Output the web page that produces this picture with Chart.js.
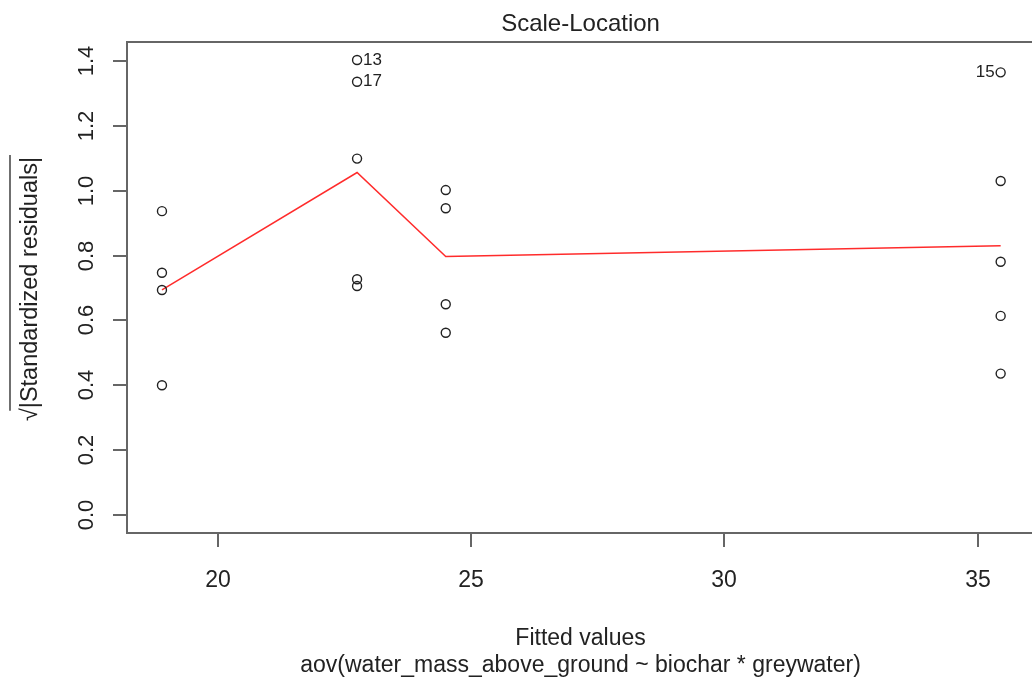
<!DOCTYPE html>
<html>
<head>
<meta charset="utf-8">
<title>Scale-Location</title>
<script src="https://cdn.jsdelivr.net/npm/chart.js@4"></script>
<style>
  html, body { margin: 0; padding: 0; background: #fff; overflow: hidden; }
  #wrap { position: relative; width: 1040px; height: 687px; }
</style>
</head>
<body>
<div id="wrap"><canvas id="chart"></canvas></div>
<script>
// fitted values and sqrt(|standardized residuals|), one entry per observation
var fitted = [18.9, 18.9, 18.9, 18.9,
              22.75, 22.75, 22.75, 22.75, 22.75,
              24.5, 24.5, 24.5, 24.5,
              35.45, 35.45, 35.45, 35.45, 35.45];
var sqrtStdResid = [0.937, 0.747, 0.694, 0.400,
                    1.403, 1.336, 1.099, 0.727, 0.706,
                    1.002, 0.946, 0.650, 0.562,
                    1.365, 1.030, 0.781, 0.614, 0.436];
var pointIds = ['', '', '', '',
                '13', '17', '', '', '',
                '', '', '', '',
                '15', '', '', '', ''];

// smoother (red line)
var smoothX = [18.9, 22.75, 24.5, 35.45];
var smoothY = [0.694, 1.056, 0.797, 0.830];

// axes
var xRange = [18.21, 36.11];
var yRange = [-0.0555, 1.4586];
var xTickValues = [20, 25, 30, 35];
var yTickValues = [0.0, 0.2, 0.4, 0.6, 0.8, 1.0, 1.2, 1.4];

var chartTitle = 'Scale-Location';
var xTitle = 'Fitted values';
var subTitle = 'aov(water_mass_above_ground ~ biochar * greywater)';
var yTitle = '\u221A|Standardized residuals|';

var FONT = '"Liberation Sans", Arial, sans-serif';
var INK = '#222';
var AXIS = '#666';

// R style box, ticks and labels drawn over the library's scales
var rDecor = {
    id: 'rDecor',
    afterDraw: function (chart) {
        var ctx = chart.ctx;
        var a = chart.chartArea;
        var xs = chart.scales.x, ys = chart.scales.y;
        ctx.save();

        // box
        ctx.strokeStyle = AXIS;
        ctx.lineWidth = 2;
        ctx.strokeRect(a.left, a.top, a.right - a.left, a.bottom - a.top);

        // x ticks
        ctx.fillStyle = INK;
        ctx.font = '23px ' + FONT;
        ctx.textAlign = 'center';
        ctx.textBaseline = 'alphabetic';
        xs.ticks.forEach(function (t) {
            var px = Math.round(xs.getPixelForValue(t.value));
            ctx.beginPath();
            ctx.moveTo(px, a.bottom);
            ctx.lineTo(px, a.bottom + 14);
            ctx.stroke();
            ctx.fillText(String(t.value), px, 587);
        });

        // y ticks (rotated labels)
        ctx.font = '22px ' + FONT;
        ys.ticks.forEach(function (t) {
            var py = Math.round(ys.getPixelForValue(t.value));
            ctx.beginPath();
            ctx.moveTo(a.left, py);
            ctx.lineTo(a.left - 14, py);
            ctx.stroke();
            ctx.save();
            ctx.translate(93, py);
            ctx.rotate(-Math.PI / 2);
            ctx.fillText(t.value.toFixed(1), 0, 0);
            ctx.restore();
        });

        // titles
        var cx = (a.left + a.right) / 2;
        ctx.font = '24px ' + FONT;
        ctx.fillText(chartTitle, cx, 31);
        ctx.font = '23px ' + FONT;
        ctx.fillText(xTitle, cx, 645);
        ctx.fillText(subTitle, cx, 672);

        // y title with radical overline
        ctx.font = '23.5px ' + FONT;
        var cy = 289;
        var wAll = ctx.measureText(yTitle).width;
        var wRoot = ctx.measureText('\u221A').width;
        ctx.save();
        ctx.translate(37, cy);
        ctx.rotate(-Math.PI / 2);
        ctx.fillText(yTitle, 0, 0);
        ctx.restore();
        var yStart = cy + wAll / 2 - wRoot * 0.8;
        var yEnd = cy - wAll / 2 - 2;
        ctx.strokeStyle = INK;
        ctx.lineWidth = 1.3;
        ctx.beginPath();
        ctx.moveTo(10, yStart);
        ctx.lineTo(10, yEnd);
        ctx.stroke();

        // point ids: right of the point in the left half, left of it otherwise
        ctx.font = '17px ' + FONT;
        ctx.textBaseline = 'middle';
        var meta = chart.getDatasetMeta(0);
        meta.data.forEach(function (el, i) {
            if (!pointIds[i]) return;
            var onRight = fitted[i] > (xRange[0] + xRange[1]) / 2;
            ctx.textAlign = onRight ? 'right' : 'left';
            ctx.fillText(pointIds[i], el.x + (onRight ? -6 : 6), el.y);
        });
        ctx.restore();
    }
};

var ctx = document.getElementById('chart').getContext('2d');
new Chart(ctx, {
    type: 'scatter',
    data: {
        datasets: [
            {
                label: 'residuals',
                data: fitted.map(function (x, i) { return { x: x, y: sqrtStdResid[i] }; }),
                pointStyle: 'circle',
                pointRadius: 4.5,
                pointBorderWidth: 1.4,
                borderColor: '#222',
                backgroundColor: 'rgba(0,0,0,0)',
                order: 1
            },
            {
                label: 'smoother',
                data: smoothX.map(function (x, i) { return { x: x, y: smoothY[i] }; }),
                showLine: true,
                borderColor: 'rgba(255,20,20,0.9)',
                borderWidth: 1.5,
                pointRadius: 0,
                tension: 0,
                order: 2
            }
        ]
    },
    options: {
        responsive: true,
        maintainAspectRatio: false,
        animation: false,
        layout: { padding: { left: 127, top: 42, right: 4, bottom: 154 } },
        plugins: {
            legend: { display: false },
            title: { display: false },
            tooltip: { enabled: false }
        },
        scales: {
            x: {
                type: 'linear',
                display: false,
                min: xRange[0],
                max: xRange[1],
                afterBuildTicks: function (s) {
                    s.ticks = xTickValues.map(function (v) { return { value: v }; });
                }
            },
            y: {
                type: 'linear',
                display: false,
                min: yRange[0],
                max: yRange[1],
                afterBuildTicks: function (s) {
                    s.ticks = yTickValues.map(function (v) { return { value: v }; });
                }
            }
        }
    },
    plugins: [rDecor]
});
</script>
</body>
</html>
